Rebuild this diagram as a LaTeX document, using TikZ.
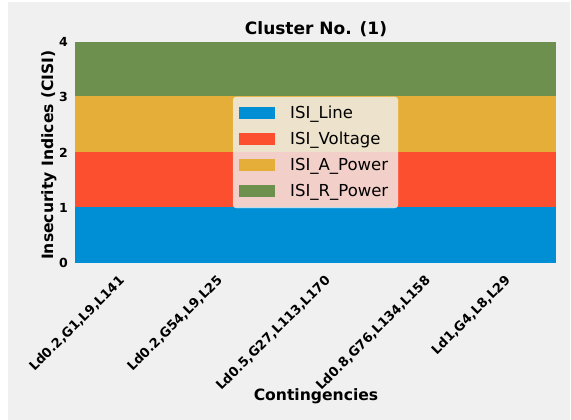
\documentclass[tikz,border=0pt]{standalone}
\usepackage{fontspec}
\setmainfont{DejaVu Sans}
\usetikzlibrary{positioning}

\definecolor{isiLine}{HTML}{008FD5}
\definecolor{isiVolt}{HTML}{FC4F30}
\definecolor{isiAPow}{HTML}{E5AE38}
\definecolor{isiRPow}{HTML}{6D904F}
\definecolor{figBg}{HTML}{F0F0F0}

\begin{document}
\begin{tikzpicture}[x=1pt, y=-1pt,
    ticklabel/.style={font=\fontsize{12.5}{12.5}\selectfont\bfseries, inner sep=0pt},
    axislabel/.style={font=\fontsize{15.6}{16}\selectfont\bfseries, inner sep=0pt},
    legendtext/.style={font=\fontsize{16.5}{17}\selectfont, inner sep=0pt, anchor=base west}]
    % Figure background
    \useasboundingbox (0,0) rectangle (571,420);
    \fill[white] (0,0) rectangle (571,420);
    \fill[figBg] (8,2) rectangle (570,420);

    % Stacked areas
    \fill[isiLine] (75,263) rectangle (556,207);
    \fill[isiVolt] (75,207) rectangle (556,151.5);
    \fill[isiAPow] (75,151.5) rectangle (556,96);
    \fill[isiRPow] (75,96) rectangle (556,42);

    % Y ticks
    \foreach \v in {0,...,4} {
        \node[ticklabel, anchor=east] (ytick\v) at (68,263-55.25*\v) {\v};
    }

    % X ticks
    \foreach \x/\t [count=\i] in {118/{Ld0.2,G1,L9,L141}, 216/{Ld0.2,G54,L9,L25},
        324/{Ld0.5,G27,L113,L170}, 424/{Ld0.8,G76,L134,L158}, 504/{Ld1,G4,L8,L29}} {
        \node[ticklabel, font=\fontsize{13}{13}\selectfont\bfseries, rotate=45, anchor=north east] (xtick\i) at (\x,274) {\t};
    }

    % Titles
    \node[font=\fontsize{17}{17}\selectfont\bfseries, inner sep=0pt, anchor=base] (title) at (316,35) {Cluster No. (1)};
    \node[axislabel, rotate=90, anchor=base] (ylabel) at (53,155) {Insecurity Indices (CISI)};
    \node[axislabel, anchor=base] (xlabel) at (316,400) {Contingencies};

    % Legend
    \fill[figBg, opacity=0.8, rounded corners=3pt] (233,97) rectangle (398,208);
    \draw[white, opacity=0.35, rounded corners=3pt] (233,97) rectangle (398,208);
    \foreach \c/\t [count=\i] in {isiLine/ISI\_Line, isiVolt/ISI\_Voltage,
        isiAPow/ISI\_A\_Power, isiRPow/ISI\_R\_Power} {
        \fill[\c] (239,107+26*\i-26) rectangle (275,119+26*\i-26);
        \node[legendtext] (leg\i) at (290,118.5+26*\i-26) {\t};
    }
\end{tikzpicture}
\end{document}
